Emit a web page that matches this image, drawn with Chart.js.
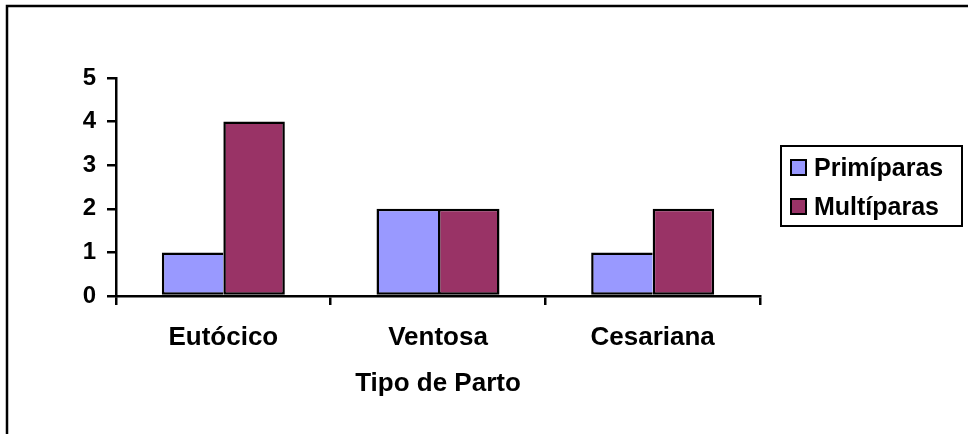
<!DOCTYPE html>
<html>
<head>
<meta charset="utf-8">
<script src="https://cdn.jsdelivr.net/npm/chart.js@4.4.0/dist/chart.umd.min.js"></script>
<style>
  html, body { margin: 0; padding: 0; background: #fff; }
  #wrap { width: 968px; height: 434px; position: relative; }
</style>
</head>
<body>
<div id="wrap"><canvas id="c" width="968" height="434"></canvas></div>
<script>
const categories = ["Eutócico", "Ventosa", "Cesariana"];
const seriesNames = ["Primíparas", "Multíparas"];
const primiparas = [1, 2, 1];
const multiparas = [4, 2, 2];
const yTicks = [0, 1, 2, 3, 4, 5];
const axisTitle = "Tipo de Parto";
const colors = ["#9999FF", "#993366"];

const FONT = "'Liberation Sans', Arial, sans-serif";

const frameAndLegend = {
  id: 'frameAndLegend',
  beforeDraw(chart) {
    const ctx = chart.ctx;
    ctx.save();
    ctx.fillStyle = '#fff';
    ctx.fillRect(0, 0, chart.width, chart.height);
    ctx.strokeStyle = '#000';
    ctx.lineWidth = 2.5;
    ctx.strokeRect(7, 6, 2000, 2000);
    ctx.restore();
  },
  afterDraw(chart) {
    const ctx = chart.ctx;
    ctx.save();
    ctx.strokeStyle = '#000';
    ctx.lineWidth = 2;
    ctx.fillStyle = '#fff';
    ctx.fillRect(781, 146, 181, 80);
    ctx.strokeRect(781, 146, 181, 80);
    ctx.font = "bold 25px " + FONT;
    ctx.textBaseline = 'alphabetic';
    ctx.textAlign = 'left';
    chart.data.datasets.forEach((ds, i) => {
      const y = 160 + i * 39;
      ctx.fillStyle = ds.backgroundColor;
      ctx.fillRect(791, y, 15, 15);
      ctx.lineWidth = 2;
      ctx.strokeRect(791, y, 15, 15);
      ctx.fillStyle = '#000';
      ctx.fillText(ds.label, 814, y + 16);
    });
    ctx.restore();
  }
};

new Chart(document.getElementById('c'), {
  type: 'bar',
  data: {
    labels: categories,
    datasets: [
      { label: seriesNames[0], data: primiparas, backgroundColor: colors[0], borderColor: '#000', borderWidth: { top: 2.5, left: 2.5, bottom: 2.5, right: 0 }, borderSkipped: false },
      { label: seriesNames[1], data: multiparas, backgroundColor: colors[1], borderColor: '#000', borderWidth: 2.5, borderSkipped: false }
    ]
  },
  options: {
    responsive: false,
    animation: false,
    events: [],
    layout: { padding: { top: 78, right: 208, bottom: 0, left: 0 } },
    datasets: { bar: { barPercentage: 1.0, categoryPercentage: 0.573 } },
    plugins: { legend: { display: false }, tooltip: { enabled: false } },
    scales: {
      x: {
        afterFit(s) { s.height = 138; },
        grid: { display: true, drawOnChartArea: false, drawTicks: true, tickLength: 9, color: '#000', lineWidth: 2.5, offset: true },
        border: { display: true, color: '#000', width: 2.5 },
        ticks: { color: '#000', font: { family: FONT, size: 26, weight: 'bold' }, padding: 17, maxRotation: 0 },
        title: { display: true, text: axisTitle, color: '#000', font: { family: FONT, size: 26, weight: 'bold' }, padding: { top: 0, bottom: 35 } }
      },
      y: {
        min: 0, max: 5,
        afterFit(s) { s.width = 116; },
        afterBuildTicks(s) { s.ticks = yTicks.map(v => ({ value: v })); },
        grid: { display: true, drawOnChartArea: false, drawTicks: true, tickLength: 9, color: '#000', lineWidth: 2.5 },
        border: { display: true, color: '#000', width: 2.5 },
        ticks: { color: '#000', font: { family: FONT, size: 24, weight: 'bold' }, padding: 11, stepSize: 1 }
      }
    }
  },
  plugins: [frameAndLegend]
});
</script>
</body>
</html>
